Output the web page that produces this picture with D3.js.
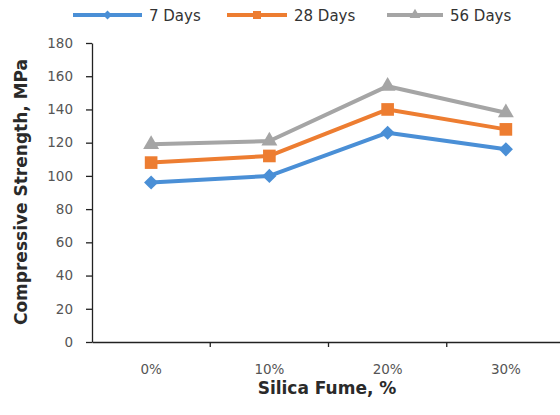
<!DOCTYPE html>
<html><head><meta charset="utf-8">
<script src="https://cdn.jsdelivr.net/npm/d3@7"></script>
<style>body{margin:0;background:#fff}svg{display:block}</style>
</head><body>
<script>
const categories = ["0%", "10%", "20%", "30%"];
const days7 = [96, 100, 126, 116];
const days28 = [108, 112, 140, 128];
const days56 = [119, 121, 154, 138];
const seriesNames = ["7 Days", "28 Days", "56 Days"];
const yTicks = [0, 20, 40, 60, 80, 100, 120, 140, 160, 180];

const W = 560, H = 415;
const svg = d3.select("body").append("svg").attr("width", W).attr("height", H);
const font = "'DejaVu Sans', 'Open Sans', sans-serif";
const x = d3.scaleBand().domain(categories).range([92, 565]);
const y = d3.scaleLinear().domain([0, 180]).range([342, 43]);

const colors = ["#4a8fd6", "#ed7d31", "#a5a5a5"];
const data = [days7, days28, days56];
const markerPath = [
  d3.symbol().type(d3.symbolSquare).size(100),   // rotated -> diamond
  d3.symbol().type(d3.symbolSquare).size(160),
  d3.symbol().type(d3.symbolTriangle).size(110)
];
const markerRot = [45, 0, 0];

// axes
const yAxis = svg.append("g").attr("transform", "translate(92,0)")
  .call(d3.axisLeft(y).tickValues(yTicks).tickSize(6).tickSizeOuter(0));
yAxis.select(".domain").attr("stroke", "#222").attr("stroke-width", 1.3);
yAxis.selectAll(".tick line").attr("stroke", "#222").attr("stroke-width", 1.3);
yAxis.selectAll(".tick text").attr("font-family", font).attr("font-size", 13.5)
  .attr("fill", "#555").attr("x", -19);

const xAxis = svg.append("g").attr("transform", "translate(0,342)")
  .call(d3.axisBottom(x).tickSize(0).tickSizeOuter(0));
xAxis.select(".domain").attr("stroke", "#222").attr("stroke-width", 1.3);
xAxis.selectAll(".tick text").attr("font-family", font).attr("font-size", 13.5)
  .attr("fill", "#555").attr("y", 32).attr("dy", 0);
// category separator ticks
svg.append("g").selectAll("line").data(categories.slice(1)).join("line")
  .attr("x1", d => x(d)).attr("x2", d => x(d)).attr("y1", 342).attr("y2", 347)
  .attr("stroke", "#222").attr("stroke-width", 1.3);

// titles
svg.append("text").attr("x", 327).attr("y", 394).attr("text-anchor", "middle")
  .attr("font-family", font).attr("font-weight", "bold").attr("font-size", 17)
  .attr("fill", "#2a2a2a").text("Silica Fume, %");
svg.append("text").attr("transform", "translate(27,192) rotate(-90)")
  .attr("text-anchor", "middle").attr("font-family", font).attr("font-weight", "bold")
  .attr("font-size", 17).attr("fill", "#2a2a2a").text("Compressive Strength, MPa");

// series
const cx = i => x(categories[i]) + x.bandwidth() / 2;
const line = d3.line().x((d, i) => cx(i)).y(d => y(d));
[2, 1, 0].forEach(s => {
  const g = svg.append("g");
  g.append("path").datum(data[s]).attr("d", line).attr("fill", "none")
    .attr("stroke", colors[s]).attr("stroke-width", 4).attr("stroke-linejoin", "round");
  g.selectAll("path.m").data(data[s]).join("path").attr("class", "m")
    .attr("transform", (d, i) => `translate(${cx(i)},${y(d)}) rotate(${markerRot[s]})`)
    .attr("d", markerPath[s]()).attr("fill", colors[s]);
});

// legend
const legX = [73, 227, 387];
const legLen = [69, 60, 56];
const legMarker = [
  d3.symbol().type(d3.symbolSquare).size(40),
  d3.symbol().type(d3.symbolSquare).size(64),
  d3.symbol().type(d3.symbolTriangle).size(50)
];
seriesNames.forEach((n, s) => {
  const g = svg.append("g").attr("transform", `translate(${legX[s]},15)`);
  g.append("line").attr("x1", 0).attr("x2", legLen[s]).attr("stroke", colors[s]).attr("stroke-width", 4);
  g.append("path").attr("transform", `translate(${legLen[s] / 2},0) rotate(${markerRot[s]})`)
    .attr("d", legMarker[s]()).attr("fill", colors[s]);
  g.append("text").attr("x", legLen[s] + 7).attr("y", 6).attr("font-family", font)
    .attr("font-size", 15).attr("fill", "#333").text(n);
});
</script>
</body></html>
